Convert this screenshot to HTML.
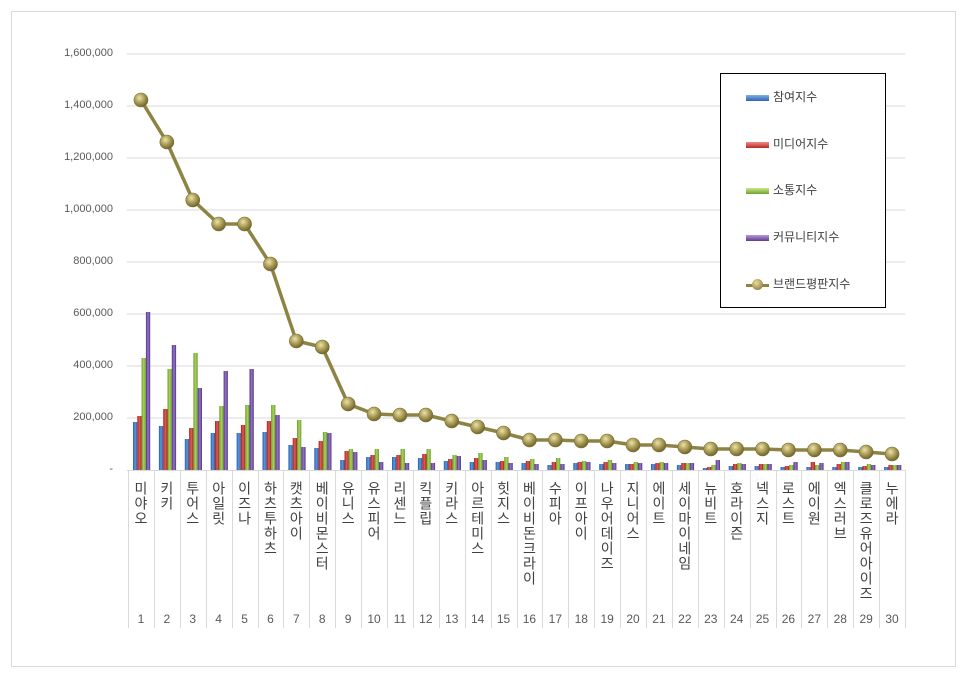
<!DOCTYPE html>
<html><head><meta charset="utf-8">
<style>
html,body{margin:0;padding:0;background:#fff;}
body{width:966px;height:676px;position:relative;overflow:hidden;font-family:"Liberation Sans","Noto Sans CJK KR",sans-serif;}
.frame{position:absolute;left:11px;top:11px;width:943px;height:654px;border:1px solid #d9d9d9;}
.lab{position:absolute;top:481px;writing-mode:vertical-rl;text-orientation:upright;font-size:14px;letter-spacing:1px;color:#404040;font-family:"Noto Sans CJK KR","NanumGothic",sans-serif;line-height:14px;}
.num{position:absolute;top:612px;font-size:12px;color:#595959;text-align:center;width:26px;}
.yl{position:absolute;right:853px;font-size:11px;color:#595959;text-align:right;}
.leg{position:absolute;left:720px;top:73px;width:164px;height:233px;border:1px solid #000;background:#fff;}
.li{position:absolute;left:52px;font-size:12px;color:#404040;font-family:"Noto Sans CJK KR","NanumGothic",sans-serif;}
.sw{position:absolute;left:25px;width:23px;height:6px;}
</style></head><body>
<div class="frame"></div>
<svg id="s" width="966" height="676" style="position:absolute;left:0;top:0"></svg>
<div id="h"></div>
<div class="leg">
 <div class="sw" style="top:21px;background:linear-gradient(#7fb0e6,#2e64b0)"></div><div class="li" style="top:14px">참여지수</div>
 <div class="sw" style="top:68px;background:linear-gradient(#f08a86,#b52a24)"></div><div class="li" style="top:61px">미디어지수</div>
 <div class="sw" style="top:114px;background:linear-gradient(#c8e68a,#73a22c)"></div><div class="li" style="top:107px">소통지수</div>
 <div class="sw" style="top:161px;background:linear-gradient(#b79ad8,#5d3b8e)"></div><div class="li" style="top:154px">커뮤니티지수</div>
 <div class="sw" style="top:210px;height:3px;background:#8d8345"></div>
 <div style="position:absolute;left:31px;top:205px;width:11px;height:11px;border-radius:50%;background:radial-gradient(circle at 40% 35%,#e8dca0,#9a8c48 70%,#6e6530)"></div>
 <div class="li" style="top:201px">브랜드평판지수</div>
</div>
<script>
var s=document.getElementById('s'),h=document.getElementById('h');
var NS='http://www.w3.org/2000/svg';
function el(t,a){var e=document.createElementNS(NS,t);for(var k in a)e.setAttribute(k,a[k]);s.appendChild(e);return e;}
var defs=el('defs',{});
defs.innerHTML='<radialGradient id="g" cx="40%" cy="35%" r="65%"><stop offset="0" stop-color="#ece2a8"/><stop offset="0.6" stop-color="#a3954f"/><stop offset="1" stop-color="#6e6530"/></radialGradient>'+
'<linearGradient id="b0" x1="0" x2="1"><stop offset="0" stop-color="#2a5ea8"/><stop offset="0.5" stop-color="#5d97dc"/><stop offset="1" stop-color="#2a5ea8"/></linearGradient>'+
'<linearGradient id="b1" x1="0" x2="1"><stop offset="0" stop-color="#a5231e"/><stop offset="0.5" stop-color="#e25a54"/><stop offset="1" stop-color="#a5231e"/></linearGradient>'+
'<linearGradient id="b2" x1="0" x2="1"><stop offset="0" stop-color="#6a9a28"/><stop offset="0.5" stop-color="#a8d45e"/><stop offset="1" stop-color="#6a9a28"/></linearGradient>'+
'<linearGradient id="b3" x1="0" x2="1"><stop offset="0" stop-color="#553586"/><stop offset="0.5" stop-color="#9474c4"/><stop offset="1" stop-color="#553586"/></linearGradient>';
var Y0=470,step=52;
var yl=['-','200,000','400,000','600,000','800,000','1,000,000','1,200,000','1,400,000','1,600,000'];
for(var i=0;i<9;i++){var y=Y0-i*step;
 if(i>0)el('line',{x1:127,x2:905,y1:y,y2:y,stroke:'#d9d9d9','stroke-width':1});
 var d=document.createElement('div');d.className='yl';d.style.top=(y-7)+'px';d.textContent=yl[i];h.appendChild(d);}
var x0=128,w=25.9;
el('line',{x1:127,x2:905,y1:470.5,y2:470.5,stroke:'#d9d9d9'});
for(var i=0;i<=30;i++){var x=Math.round(x0+i*w)+0.5;el('line',{x1:x,x2:x,y1:470,y2:628,stroke:'#d9d9d9'});}
var bars=[[422,416,358,312],[426,409,369,345],[439,428,353,388],[433,421,406,371],[433,425,405,369],[432,421,405,415],[445,438,420,447],[448,441,432,433],[460,451,449,452],[457,455,449,462],[457,455,449,463],[458,454,449,463],[461,459,455,456],[462,458,453,460],[462,461,457,463],[463,461,459,464],[465,462,458,464],[463,462,461,462],[464,462,460,463],[464,464,462,463],[464,463,462,463],[465,463,463,463],[468,467,465,460],[466,464,463,464],[466,464,464,464],[467,466,465,462],[467,462,465,463],[467,464,462,462],[467,466,464,465],[467,465,465,465]];
for(var i=0;i<30;i++){var bx=x0+i*w+5;for(var j=0;j<4;j++){var t=bars[i][j];el('rect',{x:bx+j*4.3,y:t,width:4.3,height:470-t,fill:'url(#b'+j+')'});}}
var ly=[100,142,200,224,224,264,341,347,404,414,415,415,421,427,433,440,440,441,441,445,445,447,449,449,449,450,450,450,452,454];
var pts=ly.map(function(y,i){return (x0+i*w+w/2).toFixed(1)+','+y;}).join(' ');
el('polyline',{points:pts,fill:'none',stroke:'#8d8345','stroke-width':3.5,'stroke-linejoin':'round'});
ly.forEach(function(y,i){el('circle',{cx:x0+i*w+w/2,cy:y,r:7,fill:'url(#g)',stroke:'#7a7035','stroke-width':0.6});});
var names=['미야오','키키','투어스','아일릿','이즈나','하츠투하츠','캣츠아이','베이비몬스터','유니스','유스피어','리센느','킥플립','키라스','아르테미스','힛지스','베이비돈크라이','수피아','이프아이','나우어데이즈','지니어스','에이트','세이마이네임','뉴비트','호라이즌','넥스지','로스트','에이원','엑스러브','클로즈유어아이즈','누에라'];
names.forEach(function(n,i){var cx=x0+i*w+w/2;
 var d=document.createElement('div');d.className='lab';d.style.left=(cx-7)+'px';d.textContent=n;h.appendChild(d);
 var m=document.createElement('div');m.className='num';m.style.left=(cx-13)+'px';m.textContent=i+1;h.appendChild(m);});
</script>
</body></html>
